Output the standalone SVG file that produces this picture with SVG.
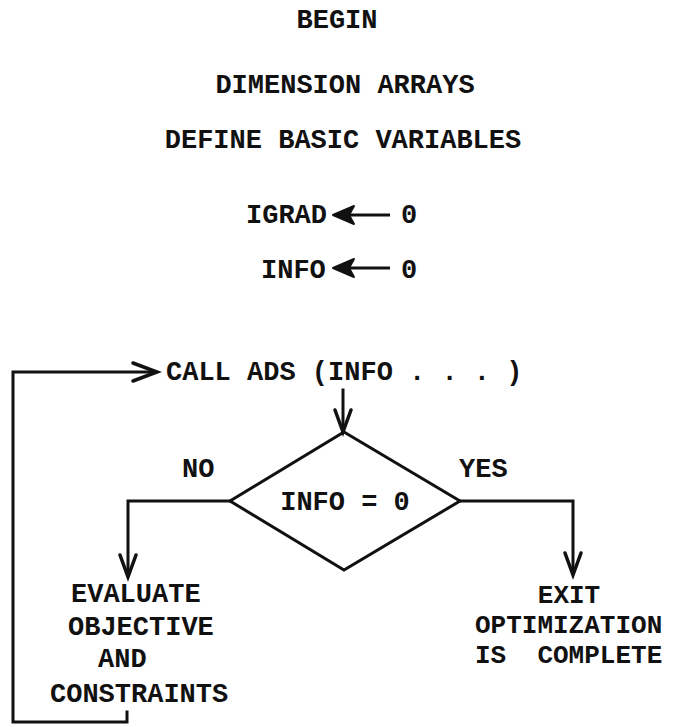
<svg xmlns="http://www.w3.org/2000/svg" width="676" height="727" viewBox="0 0 676 727">
<style>
text{font-family:"Liberation Mono","Courier New",monospace;font-size:27px;font-weight:bold;fill:#111;white-space:pre}
.sm{font-size:26px}
.ln{fill:none;stroke:#111;stroke-width:3;stroke-linejoin:miter;stroke-linecap:square}
.hd{fill:none;stroke:#111;stroke-width:3.5;stroke-linejoin:miter;stroke-linecap:round}
.as{fill:none;stroke:#111;stroke-width:3}
.ah{fill:#111;stroke:#111;stroke-width:2;stroke-linejoin:round}
</style>
<rect width="676" height="727" fill="#fff"/>
<g id="begin"><text x="337" y="28" text-anchor="middle">BEGIN</text></g>
<g id="dimension"><text x="345" y="93" text-anchor="middle">DIMENSION ARRAYS</text></g>
<g id="define"><text x="343" y="148" text-anchor="middle">DEFINE BASIC VARIABLES</text></g>
<g id="igrad">
<text x="246" y="223">IGRAD</text>
<path class="as" d="M347 215H390"/>
<path class="ah" d="M333 215L354 206L349 215L354 224Z"/>
<text x="401" y="223">0</text>
</g>
<g id="info">
<text x="261" y="278">INFO</text>
<path class="as" d="M347 268H390"/>
<path class="ah" d="M333 268L354 259L349 268L354 277Z"/>
<text x="401" y="278">0</text>
</g>
<g id="call"><text x="166" y="380">CALL ADS (INFO . . . )</text></g>
<g id="decision">
<polygon class="ln" points="344,432 460,501 344,570 230,501"/>
<text x="345" y="510" text-anchor="middle">INFO = 0</text>
</g>
<g id="evaluate">
<text x="71" y="602">EVALUATE</text>
<text x="68" y="635">OBJECTIVE</text>
<text x="98" y="667">AND</text>
<text x="50" y="702">CONSTRAINTS</text>
</g>
<g id="exit">
<text class="sm" x="569" y="603" text-anchor="middle">EXIT</text>
<text class="sm" x="475" y="633">OPTIMIZATION</text>
<text class="sm" x="475" y="663">IS  COMPLETE</text>
</g>
<g id="connectors">
<path class="ln" d="M127 712V722H13V372H155"/>
<path class="hd" d="M133 363L157 372L133 381"/>
<path class="ln" d="M343 390V430"/>
<path class="hd" d="M335 410L343 432L351 410"/>
<path class="ln" d="M230 501H128V575"/>
<path class="hd" d="M120 555L128 577L136 555"/>
<path class="ln" d="M460 501H573V573"/>
<path class="hd" d="M565 553L573 575L581 553"/>
<text x="182" y="477">NO</text>
<text x="459" y="477">YES</text>
</g>
</svg>
